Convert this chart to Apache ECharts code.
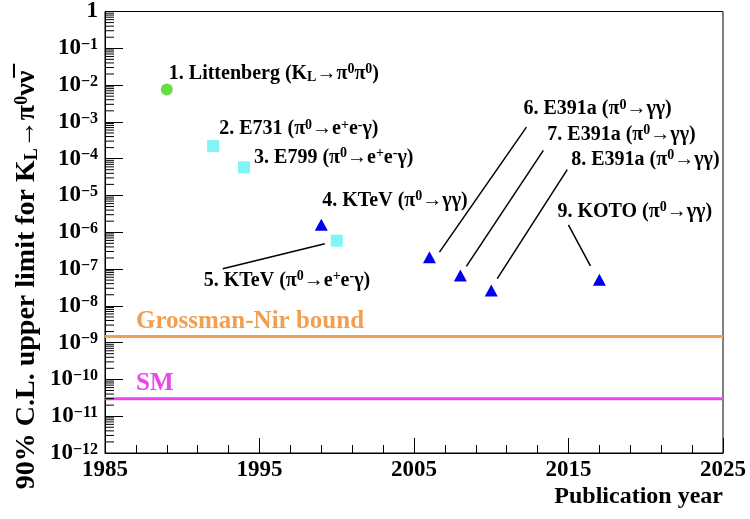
<!DOCTYPE html>
<html>
<head>
<meta charset="utf-8">
<script src="https://cdn.jsdelivr.net/npm/echarts@6/dist/echarts.min.js"></script>
<style>html,body{margin:0;padding:0;background:#fff;}#c{width:750px;height:519px;}</style>
</head>
<body>
<div id="c"></div>
<script>
// ---- data ----
const years  = [1989, 1992, 1994, 1999, 2000, 2006, 2008, 2010, 2017];
const limits = [7.6e-3, 2.2e-4, 5.8e-5, 1.6e-6, 5.9e-7, 2.1e-7, 6.7e-8, 2.6e-8, 5.1e-8];
const kinds  = ['circle', 'square', 'square', 'triangle', 'square', 'triangle', 'triangle', 'triangle', 'triangle'];
const labels = [
  '1. Littenberg (K{sub|L}→π{sup|0}π{sup|0})',
  '2. E731 (π{sup|0}→e{sup|+}e{sup|-}γ)',
  '3. E799 (π{sup|0}→e{sup|+}e{sup|-}γ)',
  '4. KTeV (π{sup|0}→γγ)',
  '5. KTeV (π{sup|0}→e{sup|+}e{sup|-}γ)',
  '6. E391a (π{sup|0}→γγ)',
  '7. E391a (π{sup|0}→γγ)',
  '8. E391a (π{sup|0}→γγ)',
  '9. KOTO (π{sup|0}→γγ)'
];
const boundNames  = ['Grossman-Nir bound', 'SM'];
const boundValues = [1.46e-9, 3.0e-11];
const xRange = [1985, 2025];
const xTicks = [1985, 1995, 2005, 2015, 2025];

// ---- annotation layout (pixel offsets from each point) ----
const labelOffsets = [[2,-16],[6,-17],[10,-10],[1,-24],[-133,40],[94,-148],[87,-141],[80,-131],[-42,-68]];
const leaderLines = { 4: [-114,28,-12,3], 5: [10,-5,97,-130], 6: [6,-9,83,-125], 7: [6,-12,76,-121], 8: [-9,-14,-31,-55] };

const FONT = '"Liberation Serif", "Times New Roman", serif';
const colors = { circle: '#66DD44', square: '#7FF5F5', triangle: '#0000EE' };
const boundColors = ['#F0A050', '#EE44EE'];

const richAnn = {
  sup: { fontSize: 14, fontWeight: 'bold', fontFamily: FONT, color: '#000', verticalAlign: 'top', lineHeight: 13 },
  sub: { fontSize: 14, fontWeight: 'bold', fontFamily: FONT, color: '#000', verticalAlign: 'bottom', lineHeight: 13 }
};

function seriesFor(kind) {
  const pts = [];
  years.forEach((y, i) => {
    if (kinds[i] === kind) pts.push({
      value: [y, limits[i]],
      label: { offset: labelOffsets[i], formatter: labels[i] }
    });
  });
  return {
    type: 'scatter',
    symbol: kind === 'square' ? 'rect' : kind,
    symbolSize: kind === 'triangle' ? [13, 12] : 12,
    itemStyle: { color: colors[kind], opacity: 1 },
    z: 5,
    data: pts,
    label: {
      show: true, position: 'inside', align: 'left', verticalAlign: 'middle',
      fontFamily: FONT, fontWeight: 'bold', fontSize: 20, color: '#000', lineHeight: 22,
      rich: richAnn
    }
  };
}

function boundSeries(i) {
  return {
    type: 'line', silent: true, symbol: 'circle', symbolSize: 0, showSymbol: true, z: 2,
    lineStyle: { color: boundColors[i], width: 3 },
    itemStyle: { color: boundColors[i] },
    data: [
      { value: [xRange[0], boundValues[i]],
        label: { show: true, position: 'inside', align: 'left', verticalAlign: 'middle', offset: [31, -15],
          formatter: boundNames[i], fontFamily: FONT, fontWeight: 'bold', fontSize: 25, color: boundColors[i] } },
      { value: [xRange[1], boundValues[i]] }
    ]
  };
}

// y minor ticks values (2..9 x 10^n)
const minorVals = [];
for (let n = -12; n < 0; n++) for (let k = 2; k <= 9; k++) minorVals.push([1985, k * Math.pow(10, n)]);

const chart = echarts.init(document.getElementById('c'));
const option = {
  animation: false,
  grid: { left: 105, right: 27, top: 9, bottom: 66, show: true, borderColor: '#000', borderWidth: 1, backgroundColor: 'transparent' },
  xAxis: {
    type: 'value', min: xRange[0], max: xRange[1], interval: 10,
    axisLine: { show: true, onZero: false, lineStyle: { color: '#000', width: 1 } },
    axisTick: { inside: true, length: 15, lineStyle: { color: '#000' } },
    minorTick: { show: true, splitNumber: 5, length: 8, lineStyle: { color: '#000' } },
    splitLine: { show: false },
    axisLabel: { margin: 6, fontFamily: FONT, fontWeight: 'bold', fontSize: 23, color: '#000',
      formatter: v => xTicks.includes(v) ? String(v) : '' }
  },
  yAxis: {
    type: 'log', logBase: 10, min: 1e-12, max: 1, interval: 1,
    axisLine: { show: true, lineStyle: { color: '#000', width: 1 } },
    axisTick: { inside: true, length: 18, lineStyle: { color: '#000' } },
    splitLine: { show: false },
    axisLabel: {
      margin: 7, fontFamily: FONT, fontWeight: 'bold', fontSize: 23, color: '#000',
      formatter: v => {
        const e = Math.round(Math.log10(v));
        return e === 0 ? '1' : '10{s|−' + (-e) + '}';
      },
      rich: { s: { fontFamily: FONT, fontWeight: 'bold', fontSize: 16, color: '#000', verticalAlign: 'top', lineHeight: 14 } }
    }
  },
  graphic: [
    {
      type: 'text', x: 27, y: 280, rotation: Math.PI / 2,
      style: {
        text: '90% C.L. upper limit for K{sub|L}→π{sup|0}νν\u0305',
        font: 'bold 28px ' + FONT, fill: '#000', align: 'center', verticalAlign: 'middle',
        rich: {
          sub: { font: 'bold 18px ' + FONT, fill: '#000', verticalAlign: 'bottom', lineHeight: 16 },
          sup: { font: 'bold 18px ' + FONT, fill: '#000', verticalAlign: 'top', lineHeight: 16 }
        }
      }
    },
    {
      type: 'text', x: 723, y: 497,
      style: { text: 'Publication year', font: 'bold 24px ' + FONT, fill: '#000', align: 'right', verticalAlign: 'middle' }
    }
  ],
  series: [
    boundSeries(0), boundSeries(1),
    seriesFor('circle'), seriesFor('square'), seriesFor('triangle'),
    {
      type: 'custom', silent: true, z: 3,
      data: years.map((y, i) => [y, limits[i], i]).filter(d => leaderLines[d[2]]),
      renderItem: (params, api) => {
        const p = api.coord([api.value(0), api.value(1)]);
        const o = leaderLines[api.value(2)];
        return { type: 'line', shape: { x1: p[0] + o[0], y1: p[1] + o[1], x2: p[0] + o[2], y2: p[1] + o[3] },
          style: { stroke: '#000', lineWidth: 1.5 } };
      }
    },
    {
      type: 'custom', silent: true, z: 3, data: minorVals,
      renderItem: (params, api) => {
        const p = api.coord([api.value(0), api.value(1)]);
        return { type: 'line', shape: { x1: p[0], y1: p[1], x2: p[0] + 9, y2: p[1] }, style: { stroke: '#000', lineWidth: 1 } };
      }
    }
  ]
};
chart.setOption(option);
</script>
</body>
</html>
